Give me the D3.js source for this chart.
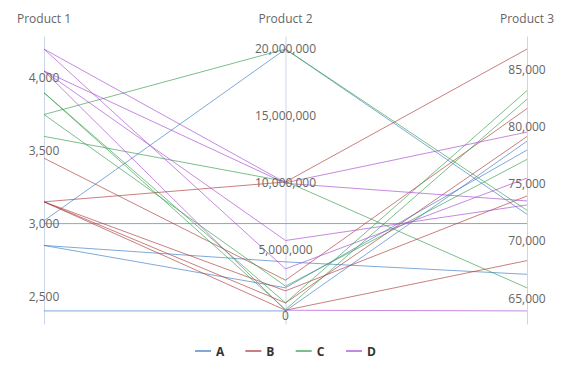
<!DOCTYPE html>
<html>
<head>
<meta charset="utf-8">
<script src="https://cdn.jsdelivr.net/npm/d3@7"></script>
<style>
  html, body { margin: 0; padding: 0; background: #ffffff; }
  svg { display: block; font-family: "Open Sans", "DejaVu Sans", sans-serif; }
</style>
</head>
<body>
<svg id="chart" width="563" height="371"></svg>
<script>
// ---- data ----
const dimensions = ["Product 1", "Product 2", "Product 3"];
const seriesNames = ["A", "B", "C", "D"];
const seriesA = [
  [3020, 20000000, 72350],
  [3000, 6940000, 71540],
  [2850, 4070000, 67100],
  [2850, 2130000, 77970],
  [2400, 400000, 78750]
];
const seriesB = [
  [3450, 2700000, 81600],
  [3150, 10050000, 86800],
  [3150, 1900000, 73950],
  [3150, 1000000, 79150],
  [3150, 450000, 68300]
];
const seriesC = [
  [3750, 20000000, 72700],
  [3600, 10100000, 65920],
  [3900, 1000000, 83170],
  [3900, 500000, 82420],
  [3750, 2250000, 77150]
];
const seriesD = [
  [4200, 10000000, 79540],
  [4200, 3550000, 75520],
  [4050, 9950000, 73520],
  [4050, 5670000, 73170],
  [4050, 450000, 63900]
];
const tickValues = [
  [2500, 3000, 3500, 4000],
  [0, 5000000, 10000000, 15000000, 20000000],
  [65000, 70000, 75000, 80000, 85000]
];
const seriesColors = ["rgb(58,123,195)", "rgb(172,58,58)", "rgb(55,157,75)", "rgb(166,75,207)"];

const allSeries = [seriesA, seriesB, seriesC, seriesD];

(function () {
  const svg = d3.select("#chart");
  const plotTop = 36, plotBottom = 324;

  const x = d3.scalePoint().domain(dimensions).range([44, 527]);

  const yScales = dimensions.map((d, i) => {
    const vals = allSeries.flatMap(s => s.map(r => r[i]));
    const [mn, mx] = d3.extent(vals);
    const pad = (mx - mn) * 0.05;
    return d3.scaleLinear().domain([mn - pad, mx + pad]).range([plotBottom, plotTop]);
  });

  const line = d3.line()
    .x((v, i) => x(dimensions[i]))
    .y((v, i) => yScales[i](v));

  // axes
  const axes = svg.append("g");
  dimensions.forEach((d, i) => {
    const g = axes.append("g")
      .attr("transform", `translate(${x(d)},0)`)
      .call(d3.axisLeft(yScales[i]).tickValues(tickValues[i]).tickSize(0).tickSizeOuter(0).tickFormat(d3.format(",")));
    g.select(".domain").attr("stroke", "#ccd6eb").attr("stroke-width", 1);
    g.selectAll(".tick").remove();
  });

  // series lines
  const linesG = svg.append("g").attr("fill", "none");
  allSeries.forEach((s, si) => {
    linesG.append("g")
      .selectAll("path")
      .data(s)
      .join("path")
      .attr("d", line)
      .attr("stroke", seriesColors[si])
      .attr("stroke-opacity", 0.65)
      .attr("stroke-width", 1);
  });

  // axis labels on top
  dimensions.forEach((d, i) => {
    const g = svg.append("g").attr("transform", `translate(${x(d)},0)`);
    g.selectAll("text.tick")
      .data(tickValues[i])
      .join("text")
      .attr("class", "tick")
      .attr("x", 0)
      .attr("y", v => yScales[i](v))
      .attr("dy", "0.35em")
      .attr("text-anchor", "middle")
      .attr("font-size", 12)
      .attr("fill", "#666666")
      .text(d3.format(","));
    g.append("text")
      .attr("x", 0)
      .attr("y", 22.5)
      .attr("text-anchor", "middle")
      .attr("font-size", 12)
      .attr("fill", "#666666")
      .text(d);
  });

  // legend
  const legendX = d3.scalePoint().domain(seriesNames).range([195, 346]);
  const legend = svg.append("g");
  seriesNames.forEach((n, i) => {
    const gx = legendX(n);
    legend.append("line")
      .attr("x1", gx).attr("x2", gx + 16)
      .attr("y1", 351).attr("y2", 351)
      .attr("stroke", seriesColors[i])
      .attr("stroke-opacity", 0.65)
      .attr("stroke-width", 2);
    legend.append("text")
      .attr("x", gx + 21)
      .attr("y", 355.5)
      .attr("font-size", 12)
      .attr("font-weight", "bold")
      .attr("fill", "#333333")
      .text(n);
  });
})();
</script>
</body>
</html>
